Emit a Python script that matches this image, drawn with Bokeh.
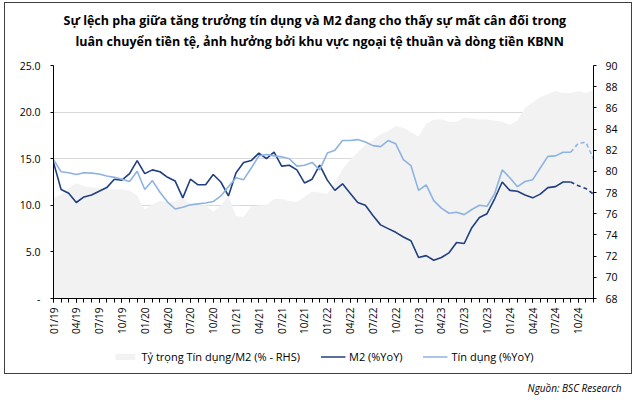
import math
from bokeh.plotting import figure
from bokeh.models import (Range1d, LinearAxis, FixedTicker, Legend, LegendItem,
                          Title, ColumnDataSource)
from bokeh.layouts import column
from bokeh.embed import file_html
from bokeh.resources import INLINE

# ---------------- data ----------------
months = [f"{m:02d}/{y:02d}" for y in range(19, 25) for m in range(1, 13)]

m2_yoy = [14.6, 11.7, 11.3, 10.3, 10.9, 11.1, 11.5, 11.9, 12.8, 12.7, 13.4, 14.8,
          13.4, 13.8, 13.6, 13.0, 12.6, 10.8, 12.8, 12.2, 12.2, 13.3, 12.5, 11.0,
          13.5, 14.6, 14.8, 15.6, 15.0, 15.7, 14.2, 14.3, 13.8, 12.4, 12.8, 14.3,
          12.7, 11.6, 12.3, 11.3, 10.3, 10.0, 8.9, 7.9, 7.5, 7.1, 6.6, 6.2,
          4.4, 4.6, 4.1, 4.4, 4.9, 6.0, 5.9, 7.6, 8.7, 9.1, 10.7, 12.5,
          11.6, 11.5, 11.1, 10.8, 11.2, 11.9, 12.0, 12.5, 12.5, 12.1, 11.8, 11.2]

credit_yoy = [14.9, 13.6, 13.5, 13.3, 13.5, 13.45, 13.35, 13.15, 13.0, 12.8, 12.55, 13.65,
              11.7, 12.65, 11.4, 10.35, 9.6, 9.8, 10.05, 10.15, 10.25, 10.4, 11.0, 12.0,
              12.95, 12.75, 14.0, 15.3, 15.45, 15.3, 15.2, 15.0, 14.2, 14.3, 14.6, 13.8,
              15.6, 15.9, 16.95, 16.95, 17.05, 16.8, 16.4, 16.3, 16.95, 16.6, 14.9, 14.25,
              11.6, 12.2, 10.5, 9.7, 9.15, 9.25, 9.0, 9.55, 10.0, 9.9, 11.25, 13.8,
              12.95, 12.0, 12.55, 12.75, 14.0, 15.25, 15.3, 15.7, 15.7, 16.65, 16.75, 15.0]

credit_m2_ratio = [77.5, 77.8, 78.4, 78.9, 78.6, 78.5, 78.4, 78.4, 78.3, 78.3, 78.2, 77.7,
                   76.4, 76.9, 77.2, 77.1, 77.2, 77.5, 76.9, 76.8, 76.8, 76.2, 76.8, 77.7,
                   75.8, 75.7, 76.7, 76.8, 76.8, 77.4, 77.4, 77.2, 77.1, 77.6, 78.1, 78.0,
                   77.9, 78.9, 80.2, 81.1, 81.8, 82.5, 83.0, 83.5, 83.8, 84.3, 84.1, 83.7,
                   83.3, 84.5, 84.9, 84.9, 84.7, 84.7, 85.1, 85.0, 84.9, 84.9, 84.8, 84.7,
                   84.4, 84.8, 86.0, 86.5, 87.0, 87.3, 87.6, 87.4, 87.4, 87.6, 87.4, 87.7]

forecast_start = 68  # index from which lines are dashed

left_ticks = [0, 5, 10, 15, 20, 25]
left_labels = ["-", "5.0", "10.0", "15.0", "20.0", "25.0"]
right_ticks = [68, 70, 72, 74, 76, 78, 80, 82, 84, 86, 88, 90]

title_lines = ["Sự lệch pha giữa tăng trưởng tín dụng và M2 đang cho thấy sự mất cân đối trong",
               "luân chuyển tiền tệ, ảnh hưởng bởi khu vực ngoại tệ thuần và dòng tiền KBNN"]
legend_labels = ["Tỷ trọng Tín dụng/M2 (% - RHS)", "M2 (%YoY)", "Tín dụng (%YoY)"]
source_text = "Nguồn: BSC Research"

FONT = "Open Sans"
DARK = "#203F80"
LIGHT = "#8DB3E2"
AREA = "#F2F2F2"
BOX = "#404040"

x = list(range(len(months)))
src = ColumnDataSource(dict(x=x, m2=m2_yoy, cr=credit_yoy, ratio=credit_m2_ratio))
src_solid = ColumnDataSource(dict(x=x[:forecast_start + 1], m2=m2_yoy[:forecast_start + 1],
                                  cr=credit_yoy[:forecast_start + 1]))
src_dash = ColumnDataSource(dict(x=x[forecast_start:], m2=m2_yoy[forecast_start:],
                                 cr=credit_yoy[forecast_start:]))

# ---------------- main chart ----------------
p = figure(frame_width=540, frame_height=233,
           x_range=Range1d(0, len(months) - 1), y_range=Range1d(0, 25),
           output_backend="svg", toolbar_location=None,
           min_border_left=53, min_border_right=44, min_border_top=65, min_border_bottom=40)
p.extra_y_ranges = {"rhs": Range1d(68, 90)}
p.outline_line_color = None
p.background_fill_color = "white"
p.border_fill_color = None
# top / left / right edges of the thin box around the chart (CSS background lines)
p.styles = {
    "background-color": "white",
    "background-image": ", ".join([f"linear-gradient({BOX}, {BOX})"] * 3),
    "background-position": "4px 2px, 4px 2px, 631px 2px",
    "background-size": "628px 1px, 1px 336px, 1px 336px",
    "background-repeat": "no-repeat",
}

p.varea(x="x", y1=68, y2="ratio", source=src, y_range_name="rhs", fill_color=AREA)
p.line("x", "m2", source=src_solid, line_color=DARK, line_width=1.6)
p.line("x", "m2", source=src_dash, line_color=DARK, line_width=1.6, line_dash="4 3")
p.line("x", "cr", source=src_solid, line_color=LIGHT, line_width=1.6)
p.line("x", "cr", source=src_dash, line_color=LIGHT, line_width=1.6, line_dash="4 3")

# axes
xa = p.xaxis[0]
xa.ticker = FixedTicker(ticks=x[::3], minor_ticks=x)
xa.major_label_overrides = {i: months[i] for i in x[::3]}
xa.major_label_orientation = math.pi / 2
xa.major_tick_out = 4
xa.major_tick_in = 0
xa.minor_tick_out = 4
xa.minor_tick_in = 0
xa.axis_line_color = "black"
xa.major_tick_line_color = "black"
xa.minor_tick_line_color = "black"
xa.major_label_standoff = 5
xa.major_label_text_font = FONT
xa.major_label_text_font_size = "10px"
xa.major_label_text_color = "black"

ya = p.yaxis[0]
ya.ticker = FixedTicker(ticks=left_ticks)
ya.major_label_overrides = dict(zip(left_ticks, left_labels))
ya.major_tick_out = 3
ya.major_tick_in = 0
ya.minor_tick_line_color = None
ya.axis_line_color = "black"
ya.major_tick_line_color = "black"
ya.major_label_standoff = 10
ya.major_label_text_font = FONT
ya.major_label_text_font_size = "10.5px"
ya.major_label_text_color = "black"

ra = LinearAxis(y_range_name="rhs", ticker=FixedTicker(ticks=right_ticks))
ra.major_tick_out = 3
ra.major_tick_in = 0
ra.minor_tick_line_color = None
ra.axis_line_color = "black"
ra.major_tick_line_color = "black"
ra.major_label_standoff = 9
ra.major_label_text_font = FONT
ra.major_label_text_font_size = "10.5px"
ra.major_label_text_color = "black"
p.add_layout(ra, "right")

p.xgrid.visible = False
p.ygrid.ticker = FixedTicker(ticks=left_ticks[1:])
p.ygrid.grid_line_color = "#D9D9D9"
p.ygrid.grid_line_width = 1

# title (two lines; first added is nearest the plot) + a small spacer
p.add_layout(Title(text=" ", standoff=13, text_font_size="1px"), "above")
p.add_layout(Title(text=title_lines[1], align="left", offset=22, standoff=0,
                   text_font=FONT, text_font_style="bold", text_font_size="12.5px",
                   text_color="black"), "above")
p.add_layout(Title(text=title_lines[0], align="left", offset=10, standoff=4,
                   text_font=FONT, text_font_style="bold", text_font_size="12.5px",
                   text_color="black"), "above")

# ---------------- legend strip + source note ----------------
p2 = figure(frame_width=540, frame_height=36, x_range=Range1d(0, 1), y_range=Range1d(0, 1),
            output_backend="svg", toolbar_location=None, x_axis_type=None, y_axis_type=None,
            min_border_left=53, min_border_right=44, min_border_top=0, min_border_bottom=0)
p2.outline_line_color = None
p2.background_fill_color = None
p2.border_fill_color = None
# left / right / bottom edges of the box
p2.styles = {
    "background-color": "white",
    "background-image": ", ".join([f"linear-gradient({BOX}, {BOX})"] * 3),
    "background-position": "4px 0px, 631px 0px, 4px 35px",
    "background-size": "1px 36px, 1px 36px, 628px 1px",
    "background-repeat": "no-repeat",
}

# legend swatches (styled like the chart's renderers; placed outside the strip's view)
leg_area = p2.varea(x=[5, 6], y1=[5, 5], y2=[6, 6], fill_color=AREA)
leg_m2 = p2.line(x=[5, 6], y=[5, 5], line_color=DARK, line_width=1.6)
leg_cr = p2.line(x=[5, 6], y=[5, 5], line_color=LIGHT, line_width=1.6)

legend = Legend(items=[LegendItem(label=legend_labels[0], renderers=[leg_area]),
                       LegendItem(label=legend_labels[1], renderers=[leg_m2]),
                       LegendItem(label=legend_labels[2], renderers=[leg_cr])],
                orientation="horizontal", location="center", margin=0, padding=0,
                spacing=20, glyph_width=25, glyph_height=8, label_standoff=4,
                label_text_font=FONT, label_text_font_size="11px",
                label_text_color="black", border_line_color=None,
                background_fill_alpha=0)
p2.add_layout(legend)

p2.add_layout(Title(text=source_text, align="right", offset=-28, standoff=8,
                    text_font=FONT, text_font_style="italic", text_font_size="10px",
                    text_color="black"), "below")

layout = column(p, p2, spacing=0)

open("out.html", "w").write(file_html(layout, INLINE))
